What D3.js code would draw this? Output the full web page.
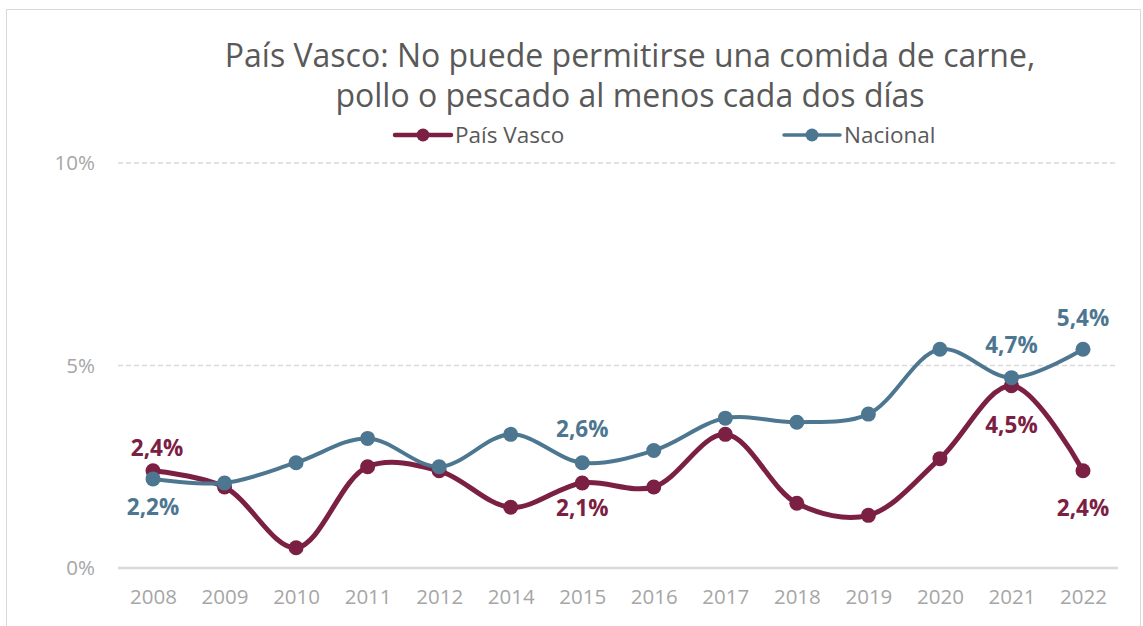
<!DOCTYPE html>
<html><head><meta charset="utf-8">
<script src="https://cdn.jsdelivr.net/npm/d3@7"></script>
<style>
html,body{margin:0;padding:0;background:#fff;}
svg{display:block;font-family:"Open Sans",sans-serif;}
</style></head>
<body><svg id="c" width="1143" height="626"></svg>
<script>
const years = ["2008","2009","2010","2011","2012","2014","2015","2016","2017","2018","2019","2020","2021","2022"];
const paisVasco = [2.4,2.0,0.5,2.5,2.4,1.5,2.1,2.0,3.3,1.6,1.3,2.7,4.5,2.4];
const nacional = [2.2,2.1,2.6,3.2,2.5,3.3,2.6,2.9,3.7,3.6,3.8,5.4,4.7,5.4];
const yTicks = [0,5,10];
const titleLines = ["País Vasco: No puede permitirse una comida de carne,","pollo o pescado al menos cada dos días"];
// labelled points: index and vertical offset of the label
const pvLabels = [{i:0,dx:4,dy:-15},{i:6,dx:0,dy:33},{i:12,dx:0,dy:47},{i:13,dx:0,dy:45}];
const naLabels = [{i:0,dx:0,dy:36},{i:6,dx:0,dy:-26},{i:12,dx:0,dy:-25},{i:13,dx:0,dy:-23}];

const svg = d3.select("#c");
const colPV = "#7b2043", colNA = "#4d7791";
const FONT = "'Open Sans',sans-serif";

// frame
svg.append("rect").attr("x",6.5).attr("y",9.5).attr("width",1134).attr("height",630)
  .attr("fill","none").attr("stroke","#d9d9d9").attr("stroke-width",1);

const x = d3.scalePoint().domain(years).range([153,1083]);
const y = d3.scaleLinear().domain([0,10]).range([568,163]);

// gridlines
svg.append("g").selectAll("line").data(yTicks.filter(d=>d>0)).join("line")
  .attr("x1",118).attr("x2",1118).attr("y1",d=>y(d)).attr("y2",d=>y(d))
  .attr("stroke","#d9d9d9").attr("stroke-width",1.3).attr("stroke-dasharray","5,3");
svg.append("line").attr("x1",118).attr("x2",1118).attr("y1",y(0)).attr("y2",y(0))
  .attr("stroke","#d9d9d9").attr("stroke-width",2.5);

// y tick labels
svg.append("g").selectAll("text").data(yTicks).join("text")
  .attr("x",95).attr("y",d=>y(d)+7).attr("text-anchor","end")
  .attr("fill","#a6a6a6").attr("font-size",20.5).text(d=>d+"%");

// x tick labels
const xAxis = svg.append("g").attr("transform","translate(0,568)")
  .call(d3.axisBottom(x).tickSize(0).tickPadding(21));
xAxis.select(".domain").remove();
xAxis.selectAll("text").attr("fill","#a6a6a6").attr("font-size",20.5)
  .attr("font-family",FONT);

// title
svg.append("g").selectAll("text").data(titleLines).join("text")
  .attr("x",630).attr("y",(d,i)=>67+i*40).attr("text-anchor","middle")
  .attr("fill","#595959").attr("font-size",32).text(d=>d);

// legend
const legend = [{name:"País Vasco",c:colPV,x:395,w:4.5},{name:"Nacional",c:colNA,x:784,w:3.5}];
const lg = svg.append("g").selectAll("g").data(legend).join("g");
lg.append("line").attr("x1",d=>d.x).attr("x2",d=>d.x+56).attr("y1",135).attr("y2",135)
  .attr("stroke",d=>d.c).attr("stroke-width",d=>d.w).attr("stroke-linecap","round");
lg.append("circle").attr("cx",d=>d.x+28).attr("cy",135).attr("r",6.5).attr("fill",d=>d.c);
lg.append("text").attr("x",d=>d.x+60).attr("y",143).attr("fill","#595959")
  .attr("font-size",22.5).text(d=>d.name);

const line = d3.line().x((d,i)=>x(years[i])).y(d=>y(d)).curve(d3.curveCatmullRom.alpha(0.5));

function drawSeries(vals,c,w,r){
  const g = svg.append("g");
  g.append("path").attr("d",line(vals)).attr("fill","none").attr("stroke",c)
    .attr("stroke-width",w).attr("stroke-linejoin","round").attr("stroke-linecap","round");
  g.selectAll("circle").data(vals).join("circle")
    .attr("cx",(d,i)=>x(years[i])).attr("cy",d=>y(d)).attr("r",r).attr("fill",c);
}
drawSeries(paisVasco,colPV,5,7.5);
drawSeries(nacional,colNA,4,7.5);

function drawLabels(vals,labels,c){
  svg.append("g").selectAll("text").data(labels).join("text")
    .attr("x",d=>x(years[d.i])+d.dx).attr("y",d=>y(vals[d.i])+d.dy)
    .attr("text-anchor","middle").attr("fill",c).attr("font-size",22.5).attr("font-weight","bold")
    .text(d=>String(vals[d.i]).replace(".",",")+"%");
}
drawLabels(paisVasco,pvLabels,colPV);
drawLabels(nacional,naLabels,colNA);
</script></body></html>
